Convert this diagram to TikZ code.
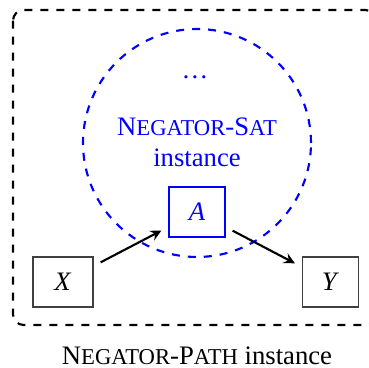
\documentclass[tikz,border=0pt]{standalone}
\usepackage{fontspec}
\setmainfont{Liberation Serif}
\usetikzlibrary{arrows,positioning}
\newcommand{\smallcap}[1]{{\fontsize{8.5pt}{10pt}\selectfont #1}}
\tikzstyle{varbox} = [rectangle, draw=black!75, minimum width=21pt, minimum height=18.75pt, inner sep=0pt]
\tikzstyle{satbox} = [varbox, draw=blue, text=blue]
\tikzstyle{arrow} = [thick, ->, >=stealth, shorten <=3pt, shorten >=3pt]
\tikzstyle{caption} = [anchor=base, inner sep=0pt, align=center]

\begin{document}
\begin{tikzpicture}[x=0.375pt, y=-0.375pt]
        \useasboundingbox (0,0) rectangle (369,368);
        % Frames
        \draw [thick, dashed, rounded corners=4pt] (13,10) rectangle (376,325);
        \node (satcircle) [circle, draw=blue, thick, dashed, minimum size=85.5pt, inner sep=0pt] at (197,143) {};
        
        % Nodes
        \node (dots) [caption, text=blue] at (195,79) {\ldots};
        \node (satname) [caption, text=blue] at (197,136) {N\smallcap{EGATOR}-S\smallcap{AT}};
        \node (satinst) [caption, text=blue] at (197,167) {instance};
        \node (vara) [satbox] at (197,212) {\textit{A}};
        \node (varx) [varbox, minimum width=22.5pt] at (63,282) {\textit{X}};
        \node (vary) [varbox] at (330.5,282) {\textit{Y}};
        \node (pathname) [caption] at (197,365) {N\smallcap{EGATOR}-P\smallcap{ATH} instance};
        
        % Arrows
        \draw [arrow] (varx) -- (vara);
        \draw [arrow] (vara) -- (vary);
    \end{tikzpicture}
\end{document}
